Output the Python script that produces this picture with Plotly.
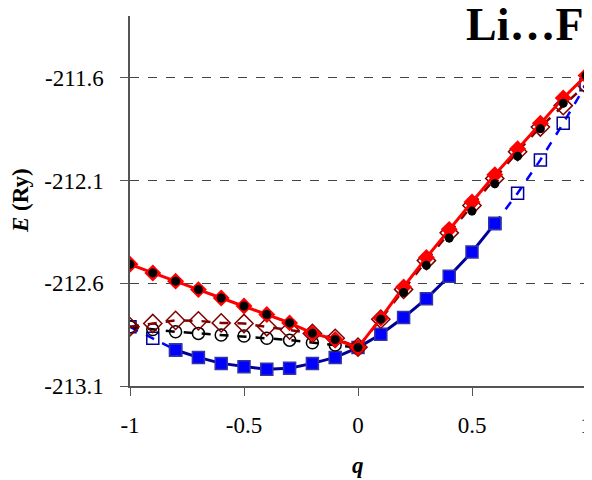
import plotly.graph_objects as go

q = [-1.0, -0.9, -0.8, -0.7, -0.6, -0.5, -0.4, -0.3, -0.2, -0.1, 0.0,
     0.1, 0.2, 0.3, 0.4, 0.5, 0.6, 0.7, 0.8, 0.9, 1.0]

E_red = [-212.508, -212.550, -212.590, -212.631, -212.672, -212.711, -212.752,
         -212.793, -212.843, -212.874, -212.913,
         -212.770, -212.618, -212.475, -212.338, -212.205, -212.072, -211.946,
         -211.822, -211.699, -211.590]

E_black = [-212.508, -212.550, -212.590, -212.631, -212.672, -212.711, -212.752,
           -212.793, -212.843, -212.874, -212.913,
           -212.775, -212.645, -212.513, -212.380, -212.249, -212.116, -211.982,
           -211.849, -211.725, -211.590]

E_darkred = [-212.812, -212.796, -212.781, -212.783, -212.793, -212.796, -212.812,
             -212.828, -212.844, -212.868, -212.911,
             -212.775, -212.630, -212.490, -212.355, -212.222, -212.090, -211.960,
             -211.840, -211.736, -211.634]

E_circle = [-212.812, -212.825, -212.836, -212.844, -212.852, -212.857, -212.868,
            -212.877, -212.890, -212.901, -212.913,
            None, None, None, None, None, None, None, None, None, None]

E_blue_fill = [None, None, -212.925, -212.961, -212.990, -213.006, -213.019,
               -213.014, -212.990, -212.961, -212.913,
               -212.848, -212.767, -212.675, -212.566, -212.448, -212.310,
               None, None, None, None]

E_blue_open = [-212.812, -212.868, -212.925, None, None, None, None,
               None, None, None, None,
               None, None, None, None, None, -212.310, -212.162,
               -212.000, -211.822, -211.634]

y_ticks = [-213.1, -212.6, -212.1, -211.6]
y_tick_text = ["-213.1", "-212.6", "-212.1", "-211.6"]
x_ticks = [-1, -0.5, 0, 0.5, 1]
x_tick_text = ["-1", "-0.5", "0", "0.5", "1"]

SERIF = "Liberation Serif"

fig = go.Figure()

fig.add_trace(go.Scatter(
    x=q, y=E_blue_open, mode="lines+markers", connectgaps=False,
    line=dict(color="#0000FF", width=2.5, dash="dash"),
    marker=dict(symbol="square-open", size=12, color="#000099", line=dict(width=1.5))))

fig.add_trace(go.Scatter(
    x=q, y=E_blue_fill, mode="lines+markers", connectgaps=False,
    line=dict(color="#000099", width=3),
    marker=dict(symbol="square", size=12, color="#0000FF",
                line=dict(color="#3333AA", width=1.5))))

fig.add_trace(go.Scatter(
    x=q, y=E_circle, mode="lines+markers", connectgaps=False,
    line=dict(color="#000000", width=2.5, dash="dash"),
    marker=dict(symbol="circle-open", size=12, color="#000000", line=dict(width=1.5))))

fig.add_trace(go.Scatter(
    x=q, y=E_darkred, mode="lines+markers",
    line=dict(color="#800000", width=2.5, dash="dash"),
    marker=dict(symbol="diamond-open", size=14, color="#800000", line=dict(width=1.5))))

fig.add_trace(go.Scatter(
    x=q, y=E_red, mode="lines+markers",
    line=dict(color="#FF0000", width=3),
    marker=dict(symbol="diamond", size=13, color="#FF0000")))

fig.add_trace(go.Scatter(
    x=q, y=E_black, mode="markers",
    marker=dict(symbol="circle", size=9, color="#000000")))

tick_font = dict(family=SERIF, size=23, weight=400)

fig.update_layout(
    width=584, height=472,
    margin=dict(l=122, r=6, t=8, b=94),
    paper_bgcolor="white", plot_bgcolor="white",
    showlegend=False,
    font=dict(family=SERIF, color="#000000"),
    xaxis=dict(range=[-1, 1], tickvals=x_ticks, ticktext=x_tick_text,
               showgrid=False, zeroline=False, showline=True, linecolor="#555555",
               linewidth=1.5, ticks="outside", ticklen=8, tickcolor="#555555",
               tickfont=tick_font, ticklabelstandoff=10, automargin=False,
               ticklabeloverflow="allow"),
    yaxis=dict(range=[-213.1, -211.3], tickvals=y_ticks, ticktext=y_tick_text,
               showgrid=True, gridcolor="#444444", griddash="dash", gridwidth=1,
               zeroline=False, showline=True, linecolor="#555555", linewidth=1.5,
               ticks="outside", ticklen=8, tickcolor="#555555",
               tickfont=tick_font, ticklabelstandoff=12, automargin=False),
    annotations=[
        dict(text="<b>Li…F</b>", xref="paper", yref="paper", x=1.0, y=0.97,
             xanchor="right", yanchor="middle", showarrow=False, yshift=3,
             font=dict(family=SERIF, size=46, color="#000000", weight=700)),
        dict(text="<b><i>E</i> (Ry)</b>", xref="paper", yref="paper", x=-0.241, y=0.5,
             xanchor="center", yanchor="middle", textangle=-90, showarrow=False,
             font=dict(family=SERIF, size=23, color="#000000", weight=700)),
        dict(text="<b><i>q</i></b>", xref="paper", yref="paper", x=0.5, y=-0.215,
             xanchor="center", yanchor="middle", showarrow=False,
             font=dict(family=SERIF, size=23, color="#000000", weight=700)),
    ],
)

fig.write_html("out.html")
